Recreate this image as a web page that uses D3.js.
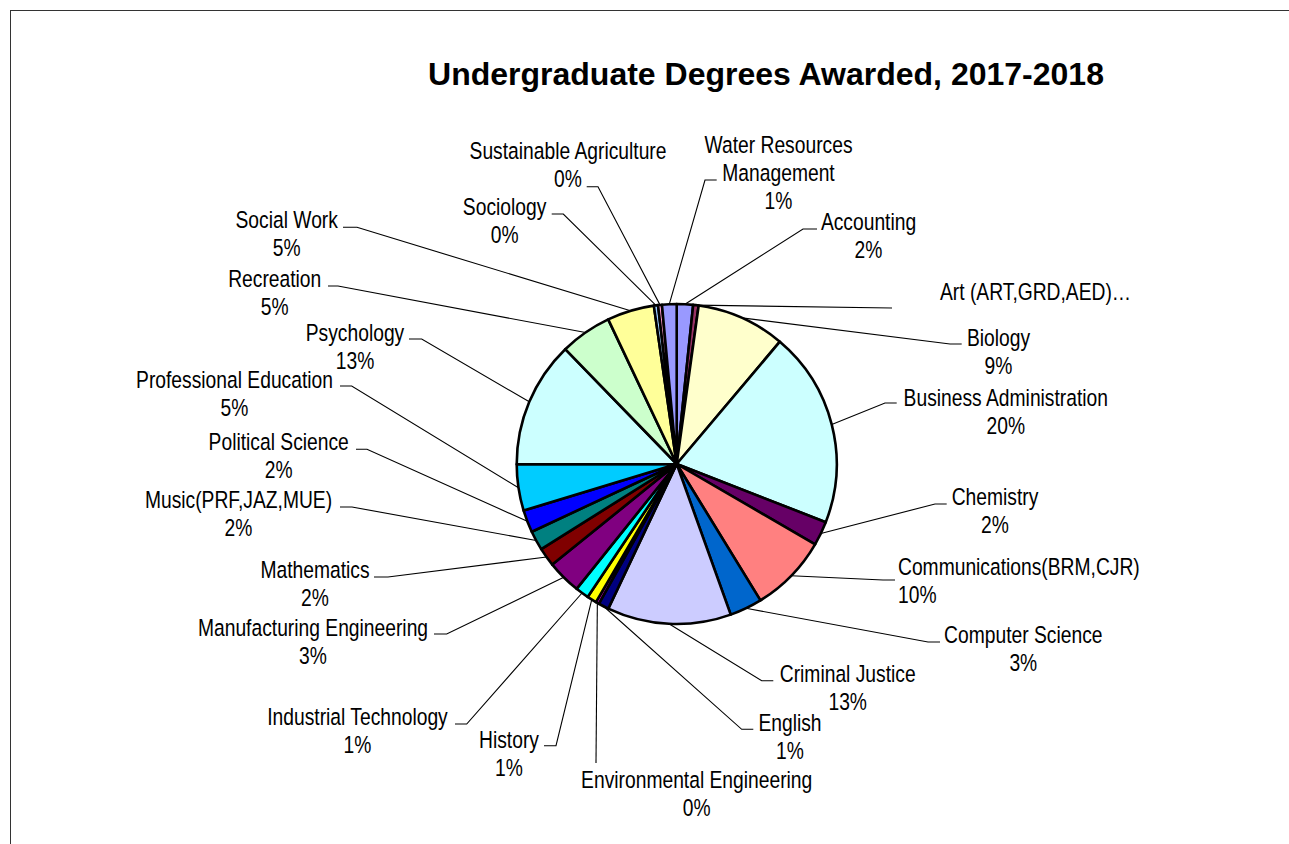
<!DOCTYPE html>
<html>
<head>
<meta charset="utf-8">
<script src="https://cdn.jsdelivr.net/npm/d3@7"></script>
<style>
  html, body { margin: 0; padding: 0; background: #fff; }
  svg { display: block; }
</style>
</head>
<body>
<svg id="chart" width="1289" height="844"></svg>
<script>
// data (share of the pie, in percent)
var categories = ['Accounting', 'Art (ART,GRD,AED)', 'Biology', 'Business Administration', 'Chemistry',
  'Communications(BRM,CJR)', 'Computer Science', 'Criminal Justice', 'English', 'Environmental Engineering',
  'History', 'Industrial Technology', 'Manufacturing Engineering', 'Mathematics', 'Music(PRF,JAZ,MUE)',
  'Political Science', 'Professional Education', 'Psychology', 'Recreation', 'Social Work', 'Sociology',
  'Sustainable Agriculture', 'Water Resources Management'];
var shares = [1.64, 0.55, 8.95, 19.75, 2.44, 7.86, 3.28, 12.5, 1.06, 0.33,
  0.97, 1.36, 3.42, 1.89, 1.97, 2.25, 4.67, 12.75, 5.22, 4.75, 0.42, 0.39, 1.47];
var pctLabels = ['2%', '', '9%', '20%', '2%', '10%', '3%', '13%', '1%', '0%',
  '1%', '1%', '3%', '2%', '2%', '2%', '5%', '13%', '5%', '5%', '0%', '0%', '1%'];
var colors = ['#9999FF', '#993366', '#FFFFCC', '#CCFFFF', '#660066', '#FF8080', '#0066CC', '#CCCCFF',
  '#000080', '#FF00FF', '#FFFF00', '#00FFFF', '#800080', '#800000', '#008080', '#0000FF', '#00CCFF',
  '#CCFFFF', '#CCFFCC', '#FFFF99', '#99CCFF', '#FF99CC', '#9999FF'];
var title = 'Undergraduate Degrees Awarded, 2017-2018';

// label placement (like the excel data labels): text spot, leader elbow, stub end
var labelLayout = [
  {x: 868.5, y: 222, a: 'middle', ex: 803, ey: 229, sx: 817},
  {x: 940, y: 291.7, a: 'start', ex: 892, ey: 308, sx: null, lines: ['Art (ART,GRD,AED)\u2026']},
  {x: 998.5, y: 338, a: 'middle', ex: 950, ey: 344, sx: 961.7},
  {x: 1005.8, y: 398, a: 'middle', ex: 885, ey: 403, sx: 896.7},
  {x: 995, y: 497, a: 'middle', ex: 935, ey: 504, sx: 946.7},
  {x: 898, y: 567, a: 'start', ex: 883, ey: 580, sx: 895},
  {x: 1023.3, y: 635, a: 'middle', ex: 928, ey: 642, sx: 940},
  {x: 847.7, y: 673.3, a: 'middle', ex: 761.7, ey: 680.7, sx: 773.3},
  {x: 790, y: 722.3, a: 'middle', ex: 741.7, ey: 729.3, sx: 753.3},
  {x: 696.7, y: 780, a: 'middle', ex: 596, ey: 763, sx: null},
  {x: 509, y: 740, a: 'middle', ex: 556, ey: 745.7, sx: 544},
  {x: 357.5, y: 717, a: 'middle', ex: 466.7, ey: 724, sx: 455},
  {x: 313, y: 628, a: 'middle', ex: 446.7, ey: 634, sx: 434},
  {x: 315, y: 570, a: 'middle', ex: 388, ey: 577, sx: 374},
  {x: 238.5, y: 500, a: 'middle', ex: 352, ey: 507, sx: 340},
  {x: 278.7, y: 441.7, a: 'middle', ex: 367, ey: 449.3, sx: 356},
  {x: 234.5, y: 380, a: 'middle', ex: 351.7, ey: 386, sx: 340},
  {x: 355, y: 332.3, a: 'middle', ex: 421.7, ey: 339, sx: 409},
  {x: 274.7, y: 279, a: 'middle', ex: 338, ey: 286, sx: 328},
  {x: 286.7, y: 220, a: 'middle', ex: 357, ey: 227.3, sx: 343},
  {x: 504.6, y: 206.7, a: 'middle', ex: 563.3, ey: 214, sx: 551.7},
  {x: 568, y: 150.7, a: 'middle', ex: 598, ey: 186.7, sx: 586.7},
  {x: 778.5, y: 145, a: 'middle', ex: 705, ey: 180, sx: 716.7, lines: ['Water Resources', 'Management']}
];

var cx = 676.7, cy = 464, R = 160;
var FONT = 23.5, LINE_H = 27.8;

var svg = d3.select('#chart');

// chart area frame (only top and left edges show in the picture)
svg.append('rect')
  .attr('x', 10.5).attr('y', 10.5)
  .attr('width', 1300).attr('height', 900)
  .attr('fill', 'none').attr('stroke', '#333').attr('stroke-width', 1);

svg.append('text')
  .attr('x', 766).attr('y', 85)
  .attr('text-anchor', 'middle')
  .style('font-family', "'Liberation Sans', Arial, sans-serif")
  .style('font-weight', 'bold')
  .style('font-size', '32px')
  .text(title);

var data = categories.map(function(c, i) { return {name: c, value: shares[i], i: i}; });
var pie = d3.pie().sort(null).value(function(d) { return d.value; });
var arcs = pie(data);
var arc = d3.arc().innerRadius(0).outerRadius(R);

// narrow font check - fall back to squeezing regular sans if narrow is missing
var probe = svg.append('text').style('font-size', '100px').style('font-family', "'Liberation Sans Narrow'").text('Business Administration');
var wN = probe.node().getComputedTextLength();
probe.style('font-family', "'Liberation Sans'");
var wR = probe.node().getComputedTextLength();
probe.remove();
var narrowOk = wN / wR < 0.9;
var squeeze = narrowOk ? 1 : 0.82;
var labelFont = narrowOk ? "'Liberation Sans Narrow', 'Arial Narrow', sans-serif" : "'Liberation Sans', Arial, sans-serif";

// leader lines
var leaders = svg.append('g')
  .attr('fill', 'none').attr('stroke', '#000').attr('stroke-width', 1.1);
arcs.forEach(function(d, i) {
  var L = labelLayout[i];
  var m = (d.startAngle + d.endAngle) / 2;
  var px = cx + R * Math.sin(m), py = cy - R * Math.cos(m);
  var pts = [[px, py], [L.ex, L.ey]];
  if (L.sx != null) pts.push([L.sx, L.ey]);
  leaders.append('path').attr('d', d3.line()(pts));
});

// slices
svg.append('g')
  .attr('transform', 'translate(' + cx + ',' + cy + ')')
  .selectAll('path')
  .data(arcs)
  .enter().append('path')
  .attr('d', arc)
  .attr('fill', function(d) { return colors[d.data.i]; })
  .attr('stroke', '#000')
  .attr('stroke-width', 2.6)
  .attr('stroke-linejoin', 'round');

// data labels
arcs.forEach(function(d, i) {
  var L = labelLayout[i];
  var lines = L.lines ? L.lines.slice() : [categories[i]];
  if (pctLabels[i]) lines.push(pctLabels[i]);
  var g = svg.append('g')
    .attr('transform', 'translate(' + L.x + ',' + L.y + ') scale(' + squeeze + ',1)');
  lines.forEach(function(t, k) {
    g.append('text')
      .attr('x', 0)
      .attr('y', k * LINE_H + FONT * 0.36)
      .attr('text-anchor', L.a)
      .style('font-family', labelFont)
      .style('font-size', FONT + 'px')
      .attr('fill', '#000')
      .text(t);
  });
});
</script>
</body>
</html>
